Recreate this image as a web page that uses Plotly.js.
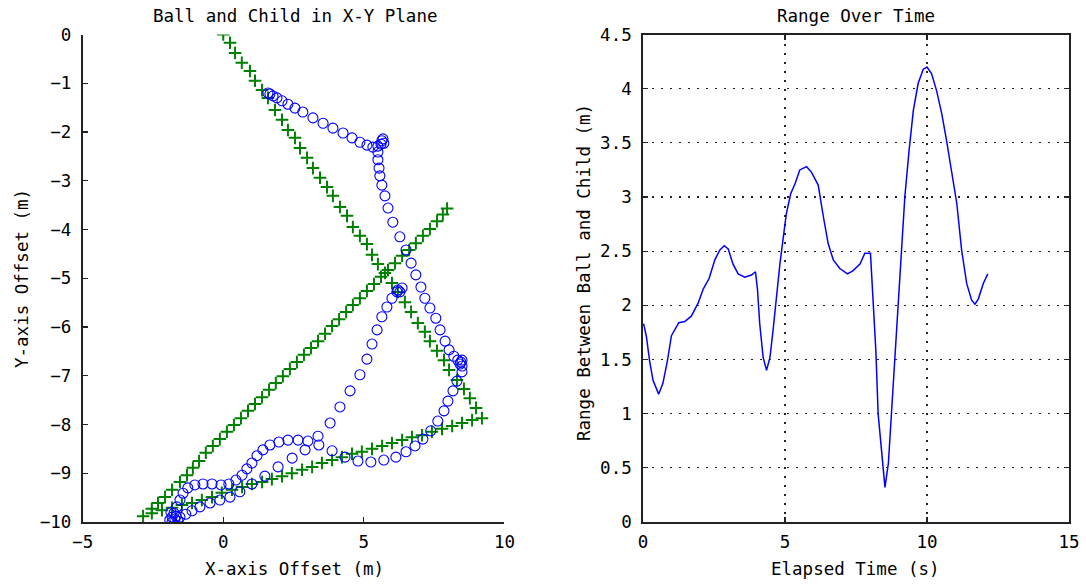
<!DOCTYPE html>
<html>
<head>
<meta charset="utf-8">
<script src="https://cdn.plot.ly/plotly-3.0.1.min.js"></script>
<style>html,body{margin:0;padding:0;background:#fff;}#chart{width:1086px;height:584px;}</style>
</head>
<body>
<div id="chart"></div>
<script>
// Child path (green +)
const childX = [0.00,0.24,0.42,0.66,0.95,1.13,1.38,1.59,1.84,2.09,2.30,2.55,2.73,2.98,3.19,3.44,3.69,3.90,4.15,4.40,4.61,4.86,5.11,5.29,5.50,5.75,6.00,6.21,6.46,6.68,6.92,7.17,7.35,7.60,7.85,8.03,8.31,8.56,8.77,8.99,9.20,
  8.85,8.49,8.14,7.78,7.42,7.07,6.71,6.36,6.00,5.65,5.29,4.93,4.58,4.22,3.87,3.51,3.16,2.80,2.44,2.09,1.73,1.38,1.02,0.67,0.31,-0.05,-0.40,-0.76,-1.11,-1.47,-1.82,-2.18,-2.54,-2.85,
  -2.54,-2.32,-2.07,-1.82,-1.54,-1.29,-1.08,-0.86,-0.62,-0.37,-0.12,0.13,0.38,0.63,0.88,1.13,1.38,1.63,1.87,2.12,2.37,2.62,2.87,3.12,3.37,3.62,3.87,4.12,4.37,4.61,4.86,5.11,5.36,5.61,5.86,6.11,6.36,6.61,6.85,7.10,7.35,7.60,7.81,7.96];
const childY = [0.00,-0.17,-0.38,-0.58,-0.75,-0.95,-1.14,-1.30,-1.55,-1.75,-1.96,-2.12,-2.33,-2.53,-2.74,-2.94,-3.13,-3.31,-3.54,-3.72,-3.95,-4.13,-4.30,-4.52,-4.71,-4.89,-5.10,-5.28,-5.49,-5.69,-5.92,-6.10,-6.29,-6.49,-6.68,-6.88,-7.09,-7.27,-7.46,-7.66,-7.87,
  -7.91,-7.97,-8.03,-8.09,-8.15,-8.22,-8.26,-8.32,-8.38,-8.44,-8.50,-8.56,-8.60,-8.67,-8.73,-8.79,-8.87,-8.93,-9.00,-9.06,-9.12,-9.18,-9.22,-9.28,-9.34,-9.40,-9.49,-9.55,-9.61,-9.65,-9.71,-9.76,-9.82,-9.88,
  -9.73,-9.61,-9.49,-9.34,-9.18,-9.04,-8.89,-8.75,-8.58,-8.44,-8.30,-8.15,-8.01,-7.87,-7.72,-7.58,-7.44,-7.29,-7.15,-7.01,-6.86,-6.72,-6.57,-6.43,-6.29,-6.14,-5.98,-5.84,-5.69,-5.55,-5.41,-5.26,-5.12,-4.97,-4.83,-4.69,-4.54,-4.42,-4.28,-4.13,-3.99,-3.83,-3.69,-3.57];

// Ball path (blue o)
const ballX = [1.59,1.66,1.77,1.91,2.09,2.30,2.55,2.83,3.19,3.55,3.90,4.26,4.58,4.86,5.11,5.32,5.50,5.64,5.71,5.68,5.61,
  5.50,5.50,5.54,5.57,5.64,5.75,5.86,6.03,6.28,6.50,6.68,6.85,7.03,7.17,7.35,7.56,7.71,7.89,8.03,8.20,8.34,8.45,8.49,8.42,8.49,
  8.49,8.31,8.17,7.99,7.85,7.63,7.38,7.10,6.82,6.50,6.14,5.71,5.25,4.79,4.33,3.87,3.40,3.01,2.66,2.30,1.98,1.66,1.41,1.20,1.02,0.84,0.67,0.45,0.20,-0.08,-0.40,-0.72,-1.01,-1.26,-1.43,-1.54,-1.65,-1.75,-1.82,
  -1.90,-1.82,-1.72,-1.61,-1.68,-1.86,
  -1.54,-1.33,-1.11,-0.83,-0.47,-0.12,0.24,0.59,1.02,1.48,1.95,2.45,2.91,3.37,
  3.80,4.15,4.51,4.86,5.11,5.29,5.47,5.64,5.82,6.00,6.18,6.36,6.28,6.21];
const ballY = [-1.20,-1.22,-1.26,-1.30,-1.36,-1.43,-1.51,-1.59,-1.71,-1.82,-1.92,-2.02,-2.12,-2.21,-2.27,-2.31,-2.29,-2.18,-2.23,-2.14,-2.25,
  -2.41,-2.57,-2.74,-2.90,-3.09,-3.31,-3.56,-3.85,-4.15,-4.42,-4.69,-4.93,-5.18,-5.41,-5.61,-5.82,-6.06,-6.29,-6.47,-6.60,-6.68,-6.72,-6.68,-6.76,-6.80,
  -6.92,-7.11,-7.31,-7.52,-7.72,-7.93,-8.13,-8.30,-8.44,-8.56,-8.67,-8.73,-8.77,-8.75,-8.67,-8.54,-8.42,-8.34,-8.32,-8.32,-8.36,-8.42,-8.52,-8.64,-8.79,-8.91,-9.04,-9.14,-9.22,-9.24,-9.22,-9.22,-9.24,-9.30,-9.41,-9.55,-9.69,-9.82,-9.90,
  -9.96,-10.0,-9.94,-9.98,-9.88,-9.80,
  -9.90,-9.84,-9.77,-9.69,-9.61,-9.55,-9.49,-9.38,-9.22,-9.06,-8.87,-8.69,-8.52,-8.24,
  -7.97,-7.64,-7.31,-6.98,-6.66,-6.35,-6.06,-5.79,-5.59,-5.41,-5.28,-5.20,-5.28,-5.24];

// Range over time
const timeS = [0.02,0.12,0.23,0.35,0.55,0.70,0.86,1.00,1.26,1.47,1.70,1.94,2.12,2.33,2.53,2.70,2.86,3.00,3.17,3.35,3.58,3.82,3.96,4.03,4.11,4.23,4.35,4.47,4.58,4.70,4.82,4.97,5.05,5.20,5.35,5.52,5.76,5.93,6.17,6.35,6.52,6.70,6.93,7.20,7.40,7.64,7.81,8.01,8.10,8.20,8.28,8.40,8.52,8.64,8.75,8.87,8.99,9.11,9.22,9.37,9.52,9.69,9.87,10.00,10.16,10.34,10.52,10.69,10.87,11.05,11.22,11.40,11.57,11.69,11.81,11.98,12.14];
const rangeM = [1.83,1.71,1.49,1.31,1.18,1.28,1.49,1.72,1.84,1.85,1.90,2.02,2.15,2.25,2.42,2.51,2.55,2.52,2.38,2.29,2.26,2.28,2.31,2.15,1.83,1.52,1.40,1.52,1.77,2.08,2.38,2.69,2.85,3.03,3.12,3.25,3.28,3.23,3.11,2.82,2.57,2.42,2.34,2.29,2.32,2.38,2.48,2.48,2.08,1.58,1.00,0.69,0.32,0.54,1.00,1.55,2.08,2.57,3.00,3.43,3.80,4.05,4.18,4.20,4.14,3.98,3.77,3.52,3.25,2.94,2.51,2.20,2.05,2.01,2.06,2.20,2.29];

const leftTitle = 'Ball and Child in X-Y Plane';
const rightTitle = 'Range Over Time';
const xLabelL = 'X-axis Offset (m)';
const yLabelL = 'Y-axis Offset (m)';
const xLabelR = 'Elapsed Time (s)';
const yLabelR = 'Range Between Ball and Child (m)';

const FONT = {family: 'DejaVu Sans Mono, monospace', size: 17.5, color: '#000'};
const AX = '#222';

const traces = [
  {x: childX, y: childY, type: 'scatter', mode: 'markers', xaxis: 'x', yaxis: 'y',
   marker: {symbol: 'cross-thin', size: 9, color: '#008000', line: {color: '#008000', width: 2}}},
  {x: ballX, y: ballY, type: 'scatter', mode: 'markers', xaxis: 'x', yaxis: 'y',
   marker: {symbol: 'circle-open', size: 10, color: '#0000ff', line: {color: '#0000ff', width: 1.1}}},
  {x: timeS, y: rangeM, type: 'scatter', mode: 'lines', xaxis: 'x2', yaxis: 'y2',
   line: {color: '#0000ff', width: 1.5}}
];

const baseAxis = {showline: true, linecolor: AX, linewidth: 1.8, ticks: 'inside', ticklen: 5,
  tickcolor: AX, tickwidth: 1.2, zeroline: false, tickfont: FONT, fixedrange: true};

const layout = {
  width: 1086, height: 584,
  margin: {l: 0, r: 0, t: 0, b: 0},
  paper_bgcolor: '#fff', plot_bgcolor: '#fff',
  showlegend: false,
  font: FONT,
  xaxis: Object.assign({}, baseAxis, {domain: [0.0761, 0.4645], range: [-5, 10], tickvals: [-5, 0, 5, 10],
    showgrid: false, anchor: 'y', ticklabelstandoff: 3}),
  yaxis: Object.assign({}, baseAxis, {domain: [0.1062, 0.9409], range: [-10, 0], dtick: 1,
    showgrid: false, anchor: 'x', ticklabelstandoff: 6}),
  xaxis2: Object.assign({}, baseAxis, {domain: [0.5921, 0.9843], range: [0, 15], dtick: 5, mirror: 'ticks',
    showgrid: true, gridcolor: '#222', gridwidth: 1.2, griddash: '2px,7px', anchor: 'y2', ticklabelstandoff: 3}),
  yaxis2: Object.assign({}, baseAxis, {domain: [0.1062, 0.9409], range: [0, 4.5], dtick: 0.5, mirror: 'ticks',
    showgrid: true, gridcolor: '#222', gridwidth: 1.2, griddash: '2px,7px', anchor: 'x2', ticklabelstandoff: 6}),
  annotations: [
    {text: leftTitle, xref: 'paper', yref: 'paper', x: 295/1086, y: 1 - 16/584, xanchor: 'center', yanchor: 'middle', showarrow: false, font: FONT},
    {text: rightTitle, xref: 'paper', yref: 'paper', x: 856/1086, y: 1 - 16/584, xanchor: 'center', yanchor: 'middle', showarrow: false, font: FONT},
    {text: xLabelL, xref: 'paper', yref: 'paper', x: 294/1086, y: 1 - 569/584, xanchor: 'center', yanchor: 'middle', showarrow: false, font: FONT},
    {text: xLabelR, xref: 'paper', yref: 'paper', x: 855/1086, y: 1 - 569/584, xanchor: 'center', yanchor: 'middle', showarrow: false, font: FONT},
    {text: yLabelL, xref: 'paper', yref: 'paper', x: 22/1086, y: 1 - 279/584, xanchor: 'center', yanchor: 'middle', textangle: -90, showarrow: false, font: FONT},
    {text: yLabelR, xref: 'paper', yref: 'paper', x: 584/1086, y: 1 - 273/584, xanchor: 'center', yanchor: 'middle', textangle: -90, showarrow: false, font: FONT}
  ]
};

Plotly.newPlot('chart', traces, layout, {displayModeBar: false, staticPlot: true});
</script>
</body>
</html>
